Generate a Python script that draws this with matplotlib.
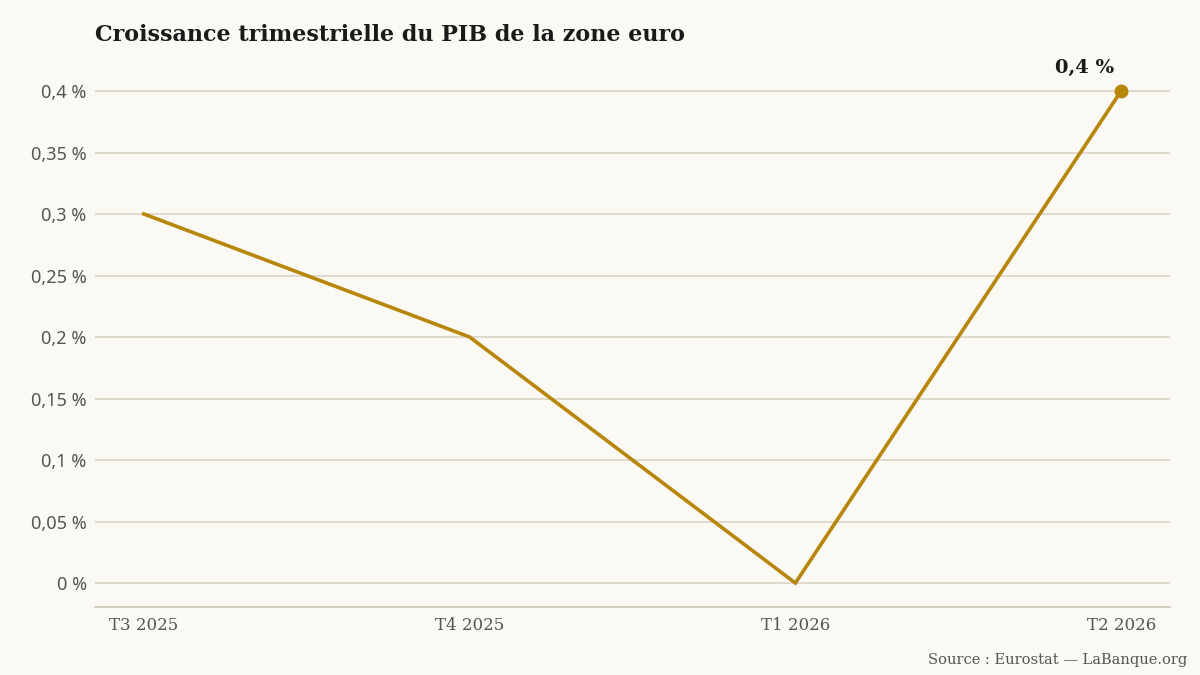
import matplotlib
matplotlib.use("Agg")
import matplotlib.pyplot as plt

quarters = ["T3 2025", "T4 2025", "T1 2026", "T2 2026"]
growth = [0.3, 0.2, 0.0, 0.4]
yticks = [0, 0.05, 0.1, 0.15, 0.2, 0.25, 0.3, 0.35, 0.4]
ytick_labels = ["0 %", "0,05 %", "0,1 %", "0,15 %", "0,2 %", "0,25 %", "0,3 %", "0,35 %", "0,4 %"]
title = "Croissance trimestrielle du PIB de la zone euro"
source = "Source : Eurostat — LaBanque.org"
last_label = "0,4 %"

bg = "#FBF9F3"
line_c = "#B8860B"
grid_c = "#D9D1C4"

fig = plt.figure(figsize=(12, 6.75), dpi=100, facecolor=bg)
ax = fig.add_axes([95/1200, 68/675, (1170-95)/1200, (607-66.4)/675])
ax.set_facecolor(bg)

x = list(range(len(quarters)))
ax.plot(x, growth, color=line_c, lw=2.6, solid_joinstyle="miter", zorder=3)
ax.plot([x[-1]], [growth[-1]], "o", color=line_c, ms=9, zorder=4)
ax.annotate(last_label, (x[-1], growth[-1]), xytext=(-26, 10), textcoords="offset points",
            ha="center", va="bottom", fontsize=14, fontweight="bold",
            family="DejaVu Serif", color="#1a1a1a")

ax.set_xlim(-0.15, 3.15)
ax.set_ylim(-0.0195, 0.42)
ax.set_yticks(yticks)
ax.set_yticklabels(ytick_labels)
ax.set_xticks(x)
ax.set_xticklabels(quarters)
ax.yaxis.grid(True, color=grid_c, lw=1.1)
ax.set_axisbelow(True)
for s in ["top", "right", "left"]:
    ax.spines[s].set_visible(False)
ax.spines["bottom"].set_color("#CFC8BA")
ax.spines["bottom"].set_linewidth(1.2)
ax.tick_params(axis="y", length=0, pad=6, labelsize=13, labelcolor="#555555")
ax.tick_params(axis="x", length=0, pad=7, labelsize=12, labelcolor="#555555")
for lab in ax.get_yticklabels():
    lab.set_family("Noto Sans")
for lab in ax.get_xticklabels():
    lab.set_family("DejaVu Serif")

fig.text(95/1200, 1 - 35/675, title, ha="left", va="center", fontsize=16,
         fontweight="bold", family="DejaVu Serif", color="#1a1a1a")
fig.text(1187/1200, 1 - 660/675, source, ha="right", va="center", fontsize=10.5,
         family="DejaVu Serif", color="#555555")

fig.savefig("out.png", dpi=100, facecolor=bg)
